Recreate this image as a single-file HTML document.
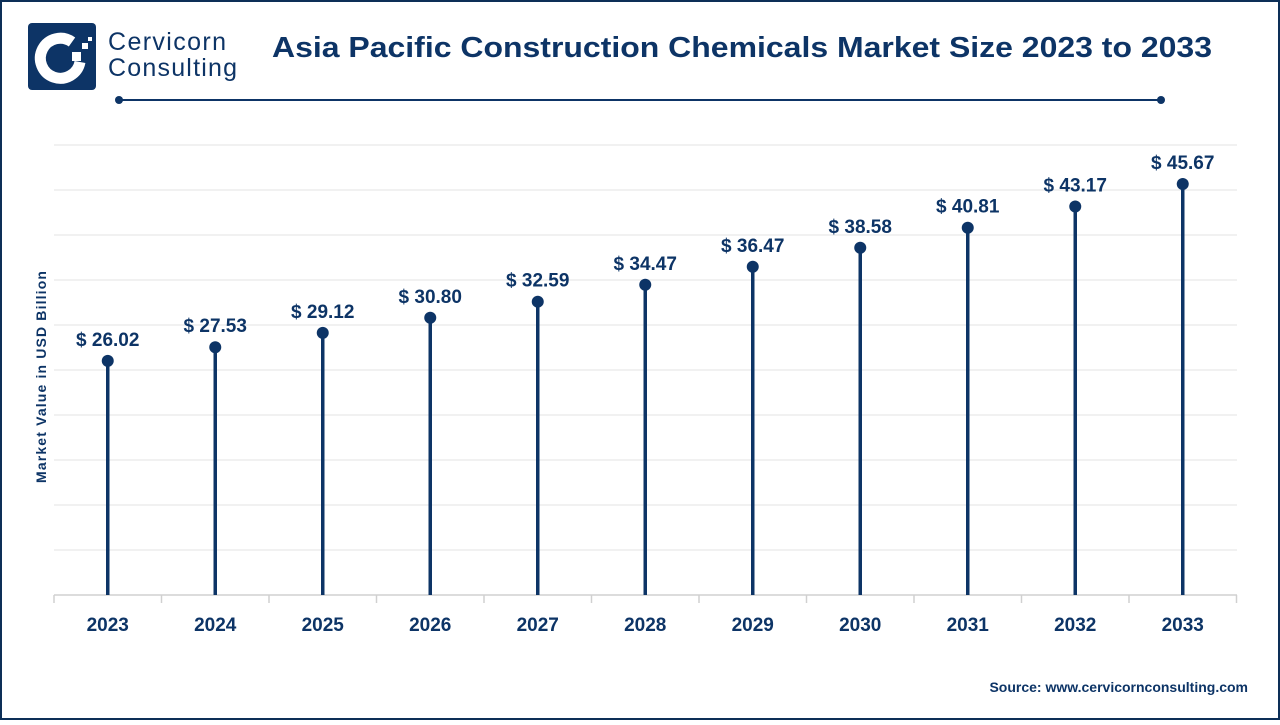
<!DOCTYPE html>
<html><head><style>
body{margin:0;width:1280px;height:720px;background:#fff;font-family:"Liberation Sans",sans-serif;overflow:hidden}
</style></head><body>
<svg width="1280" height="720" xmlns="http://www.w3.org/2000/svg">
<rect x="1" y="1" width="1278" height="718" fill="#fff" stroke="#0d2f57" stroke-width="2"/>
<rect x="28" y="23" width="68" height="67" rx="4" fill="#0d3466"/>
<path d="M72 42 A20 20 0 1 0 80 62" fill="none" stroke="#fff" stroke-width="11"/>
<rect x="72" y="52" width="9" height="9" fill="#fff"/>
<rect x="82" y="43" width="6" height="6" fill="#fff"/>
<rect x="88" y="37" width="4" height="4" fill="#fff"/>
<text x="108" y="50" font-size="25" fill="#0d3466" textLength="118">Cervicorn</text>
<text x="108" y="76" font-size="25" fill="#0d3466" textLength="129">Consulting</text>
<text x="272" y="57" font-size="29" font-weight="bold" fill="#0d3466" textLength="940" lengthAdjust="spacingAndGlyphs">Asia Pacific Construction Chemicals Market Size 2023 to 2033</text>
<line x1="119" y1="100" x2="1161" y2="100" stroke="#0d3466" stroke-width="2"/>
<circle cx="119" cy="100" r="4" fill="#0d3466"/><circle cx="1161" cy="100" r="4" fill="#0d3466"/>
<g stroke="#e3e3e3" stroke-width="1">
<line x1="54" x2="1237" y1="145" y2="145"/><line x1="54" x2="1237" y1="190" y2="190"/>
<line x1="54" x2="1237" y1="235" y2="235"/><line x1="54" x2="1237" y1="280" y2="280"/>
<line x1="54" x2="1237" y1="325" y2="325"/><line x1="54" x2="1237" y1="370" y2="370"/>
<line x1="54" x2="1237" y1="415" y2="415"/><line x1="54" x2="1237" y1="460" y2="460"/>
<line x1="54" x2="1237" y1="505" y2="505"/><line x1="54" x2="1237" y1="550" y2="550"/>
</g>
<g stroke="#d0d0d0" stroke-width="1.5">
<line x1="54" x2="1237" y1="595" y2="595"/>
<line x1="54" x2="54" y1="595" y2="603"/><line x1="161.5" x2="161.5" y1="595" y2="603"/>
<line x1="269" x2="269" y1="595" y2="603"/><line x1="376.5" x2="376.5" y1="595" y2="603"/>
<line x1="484" x2="484" y1="595" y2="603"/><line x1="591.5" x2="591.5" y1="595" y2="603"/>
<line x1="699" x2="699" y1="595" y2="603"/><line x1="806.5" x2="806.5" y1="595" y2="603"/>
<line x1="914" x2="914" y1="595" y2="603"/><line x1="1021.5" x2="1021.5" y1="595" y2="603"/>
<line x1="1129" x2="1129" y1="595" y2="603"/><line x1="1236.5" x2="1236.5" y1="595" y2="603"/>
</g>
<text transform="translate(46,377) rotate(-90)" text-anchor="middle" font-size="14" font-weight="bold" fill="#0d3466" textLength="212">Market Value in USD Billion</text>
<g id="bars" fill="#0d3466" stroke="#0d3466"></g>
<text x="1248" y="692" text-anchor="end" font-size="14" font-weight="bold" fill="#0d3466">Source: www.cervicornconsulting.com</text>
</svg>
<script>
var v=[26.02,27.53,29.12,30.80,32.59,34.47,36.47,38.58,40.81,43.17,45.67],g=document.getElementById('bars'),s='';
v.forEach(function(d,i){var x=107.75+i*107.5,y=595-d*9;
s+='<line x1="'+x+'" x2="'+x+'" y1="'+y+'" y2="595" stroke-width="3.5"/>'+
'<circle cx="'+x+'" cy="'+y+'" r="6" stroke="none"/>'+
'<text x="'+x+'" y="'+(y-15)+'" text-anchor="middle" font-size="19" font-weight="bold" stroke="none">$ '+d.toFixed(2)+'</text>'+
'<text x="'+x+'" y="631" text-anchor="middle" font-size="19" font-weight="bold" stroke="none">'+(2023+i)+'</text>';});
g.innerHTML=s;
</script>
</body></html>
